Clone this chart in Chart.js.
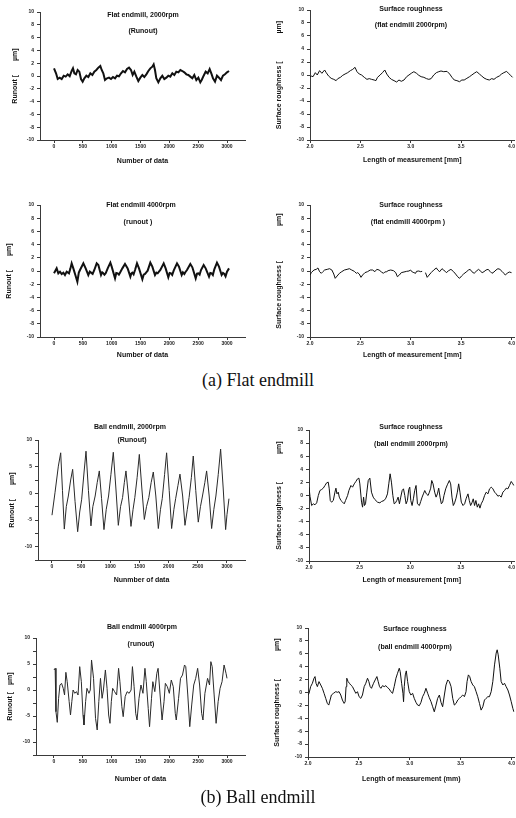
<!DOCTYPE html>
<html><head><meta charset="utf-8">
<script src="https://cdn.jsdelivr.net/npm/chart.js@4.4.0/dist/chart.umd.min.js"></script>
<style>
html,body{margin:0;padding:0;background:#fff;}
#page{position:relative;width:516px;height:818px;overflow:hidden;background:#fff;}
#page canvas{position:absolute;}
.cap{position:absolute;left:0;width:516px;text-align:center;font-family:"Liberation Serif","DejaVu Serif",serif;font-size:18px;line-height:20px;color:#111;}
</style></head><body>
<div id="page">
<canvas id="a1" width="258" height="175" style="left:0px;top:0px"></canvas>
<canvas id="a2" width="258" height="175" style="left:258px;top:0px"></canvas>
<canvas id="a3" width="258" height="175" style="left:0px;top:190px"></canvas>
<canvas id="a4" width="258" height="175" style="left:258px;top:190px"></canvas>
<canvas id="b1" width="258" height="175" style="left:0px;top:420px"></canvas>
<canvas id="b2" width="258" height="175" style="left:258px;top:420px"></canvas>
<canvas id="b3" width="258" height="180" style="left:0px;top:612px"></canvas>
<canvas id="b4" width="258" height="180" style="left:258px;top:612px"></canvas>
<div class="cap" style="top:370px">(a) Flat endmill</div>
<div class="cap" style="top:787px">(b) Ball endmill</div>
</div>
<script>
// ---- data: [number of data / length in mm, value in µm] ----
const runoutTicks = [0, 500, 1000, 1500, 2000, 2500, 3000];
const lengthTicks = [2.0, 2.5, 3.0, 3.5, 4.0];

const flat2000Runout = [[0,1.2],[35,0.42],[64,-0.47],[98,-0.26],[133,-0.47],[168,0.05],[202,-0.10],[237,0.26],[272,-0.05],[306,0.78],[329,1.2],[353,0.42],[381,0.26],[410,0.94],[439,0.68],[468,-0.47],[497,-0.89],[526,-0.36],[561,0.05],[595,-0.16],[630,0.42],[665,0.16],[699,0.68],[734,0.94],[769,1.3],[803,1.56],[827,0.94],[855,0.42],[884,-0.63],[919,-0.36],[954,-0.26],[988,-0.47],[1023,-0.16],[1058,-0.36],[1092,0.05],[1127,-0.05],[1162,0.42],[1196,0.78],[1231,0.57],[1266,1.09],[1301,1.3],[1335,0.94],[1364,0.16],[1393,0.68],[1428,-0.10],[1462,-0.78],[1497,-0.26],[1532,0.16],[1566,-0.16],[1601,0.26],[1636,0.78],[1670,1.2],[1705,1.46],[1728,1.82],[1751,0.94],[1774,-0.36],[1809,-0.99],[1844,-0.36],[1878,0.05],[1913,-0.47],[1948,-0.26],[1982,0.05],[2017,-0.10],[2052,0.42],[2086,0.16],[2121,0.68],[2156,0.57],[2191,0.94],[2225,0.78],[2260,0.57],[2295,0.26],[2329,0.16],[2364,-0.10],[2399,-0.36],[2433,0.16],[2468,-0.63],[2503,-0.26],[2537,-0.99],[2561,-0.63],[2595,0.05],[2630,0.68],[2665,0.42],[2699,1.09],[2734,0.26],[2757,-0.36],[2792,-0.89],[2826,0.05],[2861,-0.26],[2896,-0.63],[2930,0.05],[2965,0.26],[3000,0.57],[3035,0.78]];

const flat2000Rough = [[2.000,-0.36],[2.013,-0.15],[2.030,-0.26],[2.053,0.36],[2.072,0],[2.095,0.67],[2.118,0.26],[2.145,0.77],[2.161,0.36],[2.184,-0.15],[2.210,-0.51],[2.236,-0.67],[2.259,-0.87],[2.276,-0.56],[2.302,-0.36],[2.325,-0.05],[2.348,0.15],[2.374,0.36],[2.401,0.67],[2.424,0.87],[2.447,1.18],[2.466,0.51],[2.489,0.15],[2.512,0],[2.539,-0.36],[2.565,-0.67],[2.588,-0.56],[2.611,-0.67],[2.637,-0.77],[2.654,-0.87],[2.670,-0.36],[2.696,0],[2.719,0.36],[2.742,0.77],[2.762,0.15],[2.785,-0.36],[2.808,-0.67],[2.834,-0.87],[2.860,-1.08],[2.883,-0.77],[2.906,-0.97],[2.933,-0.77],[2.959,-0.26],[2.982,0],[3.005,0.26],[3.031,0.51],[3.057,0.26],[3.080,-0.05],[3.103,-0.26],[3.130,-0.36],[3.156,-0.56],[3.179,-0.67],[3.202,-0.56],[3.228,0],[3.254,0.36],[3.278,0.51],[3.300,0.62],[3.327,0.51],[3.360,0.56],[3.386,0.15],[3.409,-0.36],[3.432,-0.77],[3.458,-0.87],[3.484,-1.03],[3.507,-0.77],[3.530,-0.77],[3.557,-0.51],[3.583,-0.26],[3.606,0],[3.629,0.26],[3.655,0.51],[3.681,0.15],[3.704,-0.15],[3.727,-0.46],[3.754,-0.67],[3.780,-0.77],[3.803,-0.56],[3.826,-0.67],[3.852,-0.36],[3.879,-0.15],[3.901,0.15],[3.924,0.36],[3.951,0.56],[3.970,0.26],[3.990,-0.05],[4.010,-0.36]];

const flat4000Runout = [[0,-0.35],[46,0.40],[75,-0.35],[104,-0.10],[133,-0.45],[162,-0.25],[190,-0.61],[220,-0.10],[260,-0.35],[285,0.40],[306,1.16],[335,0.40],[370,-0.61],[405,-1.62],[430,-0.25],[451,0.15],[509,1.16],[549,0.40],[595,-0.61],[620,-0.10],[642,-0.25],[670,-0.45],[699,0.15],[740,1.16],[769,0.91],[815,-0.61],[835,-0.20],[855,-0.35],[875,-0.55],[896,-0.35],[931,0.40],[977,1.26],[1000,0.66],[1058,-1.11],[1080,-0.30],[1104,-0.35],[1125,-0.55],[1144,-0.25],[1185,0.40],[1231,1.06],[1277,0.40],[1324,-0.86],[1340,-0.40],[1358,-0.25],[1380,-0.50],[1405,0.15],[1439,1.16],[1474,0.40],[1532,-1.26],[1555,-0.55],[1578,-0.45],[1600,-0.20],[1624,0.05],[1670,1.26],[1705,0.66],[1751,-0.61],[1775,-0.25],[1798,-0.35],[1820,-0.10],[1844,0.15],[1902,1.16],[1936,0.40],[1982,-0.96],[2005,-0.30],[2029,-0.35],[2050,-0.60],[2075,0.05],[2133,1.16],[2167,0.66],[2214,-0.61],[2235,-0.20],[2260,-0.45],[2280,-0.15],[2306,0.15],[2364,1.06],[2399,0.56],[2457,-1.11],[2480,-0.40],[2503,-0.35],[2525,-0.55],[2549,0.15],[2595,0.91],[2630,0.40],[2688,-0.86],[2710,-0.30],[2734,-0.35],[2755,-0.60],[2780,0.25],[2826,1.26],[2861,0.66],[2907,-0.61],[2930,-0.30],[2954,-0.45],[2975,-0.80],[3000,-0.10],[3035,0.40]];

const flat4000Rough = [[2.000,-0.61],[2.013,-0.25],[2.039,0.15],[2.062,0.25],[2.079,0.46],[2.095,-0.10],[2.112,-0.35],[2.128,-0.10],[2.145,0.15],[2.171,0.25],[2.194,0.35],[2.217,0.15],[2.236,-0.46],[2.250,-1.11],[2.269,-0.76],[2.292,-0.35],[2.315,-0.10],[2.342,0.15],[2.368,0.25],[2.391,0.35],[2.414,0.15],[2.440,-0.05],[2.460,-0.35],[2.473,-0.25],[2.489,-0.46],[2.506,-0.96],[2.522,-0.61],[2.545,-0.25],[2.571,-0.10],[2.598,0.15],[2.621,0.15],[2.644,-0.10],[2.663,0.25],[2.686,0.15],[2.709,-0.15],[2.729,-0.35],[2.742,-0.15],[2.762,-0.10],[2.775,0.05],[2.801,0.15],[2.828,0.05],[2.851,-0.25],[2.867,-0.86],[2.887,-0.61],[2.906,-0.25],[2.933,-0.15],[2.959,-0.05],[2.982,0],[2.998,0.15],[3.015,-0.15],[3.031,-0.25],[3.048,-0.35],[3.057,-0.05],[3.080,0],[3.097,-0.10],[3.113,-0.05],[3.130,null],[3.146,-0.25],[3.163,-0.96],[3.182,-0.61],[3.202,-0.25],[3.228,0.15],[3.254,0.46],[3.268,0.15],[3.287,-0.10],[3.310,0.35],[3.327,0.15],[3.353,-0.25],[3.376,0.05],[3.399,0.25],[3.425,-0.10],[3.445,-0.46],[3.465,-0.86],[3.484,-1.11],[3.504,-0.76],[3.524,-0.46],[3.550,-0.15],[3.573,0.15],[3.589,0.25],[3.606,-0.10],[3.629,-0.35],[3.649,-0.05],[3.672,0.25],[3.688,0.05],[3.708,-0.25],[3.727,-0.10],[3.747,0.15],[3.767,0.25],[3.787,-0.05],[3.806,-0.35],[3.826,-0.15],[3.846,0.15],[3.865,0.35],[3.885,0.25],[3.905,-0.05],[3.924,-0.35],[3.938,-0.61],[3.957,-0.35],[3.977,-0.15],[4.000,-0.25]];

const ball2000Runout = [[0,-4.1],[51,0.1],[109,5.1],[149,7.6],[180,0.5],[211,-6.7],[245,-2.5],[280,-0.5],[320,2.5],[354,4.5],[395,-1.5],[440,-7.2],[475,-3.5],[509,-1.1],[550,4.0],[583,7.9],[625,0.5],[668,-6.1],[700,-2.5],[740,-0.5],[775,2.0],[811,4.2],[850,-1.0],[891,-6.8],[930,-3.0],[970,-0.5],[1010,3.5],[1051,7.7],[1095,1.0],[1137,-6.0],[1175,-2.5],[1210,-0.8],[1240,2.0],[1268,4.2],[1310,-0.5],[1354,-6.2],[1390,-3.0],[1420,-0.8],[1460,3.0],[1497,7.3],[1540,1.0],[1583,-4.9],[1620,-2.5],[1660,-0.8],[1700,2.0],[1737,4.0],[1780,-0.5],[1823,-6.6],[1860,-3.0],[1890,-1.0],[1930,3.5],[1965,7.6],[2010,0.5],[2051,-6.6],[2090,-3.0],[2120,-1.0],[2160,1.5],[2194,3.6],[2240,-0.5],[2280,-6.0],[2320,-3.0],[2350,-0.8],[2390,3.0],[2422,7.0],[2465,0.5],[2508,-5.4],[2545,-2.5],[2580,-0.5],[2620,2.0],[2651,4.2],[2695,-0.5],[2737,-6.6],[2775,-3.0],[2810,-0.5],[2850,3.5],[2891,8.3],[2935,1.0],[2977,-6.8],[3000,-4.0],[3034,-1.0]];

const ball2000Rough = [[2.000,1.27],[2.010,-0.15],[2.026,-1.53],[2.043,-1.27],[2.059,-1.42],[2.076,-1.12],[2.092,0],[2.108,0.76],[2.125,0.92],[2.141,1.12],[2.158,1.53],[2.174,1.93],[2.190,2.04],[2.200,1.02],[2.210,-0.76],[2.223,-1.02],[2.240,-0.76],[2.256,0.51],[2.266,1.12],[2.276,0.25],[2.289,0.51],[2.299,-0.25],[2.315,-0.76],[2.332,-1.02],[2.348,-1.27],[2.361,-0.76],[2.381,0],[2.394,0.76],[2.414,1.53],[2.430,1.27],[2.447,1.78],[2.463,2.14],[2.479,2.54],[2.493,2.65],[2.502,1.78],[2.519,-1.02],[2.529,-1.78],[2.539,-0.25],[2.548,-1.53],[2.558,-1.27],[2.571,0.51],[2.585,2.29],[2.601,2.65],[2.617,0.51],[2.634,-0.25],[2.650,-0.61],[2.677,-1.02],[2.700,-1.12],[2.716,-0.92],[2.742,-0.76],[2.759,-0.41],[2.775,0.25],[2.788,1.78],[2.801,3.31],[2.814,2.04],[2.828,0],[2.841,-1.27],[2.854,-1.12],[2.867,-0.76],[2.880,-0.25],[2.893,-1.27],[2.906,-0.25],[2.920,0.76],[2.933,1.02],[2.946,0],[2.959,-1.27],[2.972,-0.76],[2.985,0.92],[2.995,1.27],[3.005,-0.76],[3.018,-1.53],[3.031,-0.51],[3.044,0.76],[3.057,1.53],[3.071,-1.27],[3.090,-1.53],[3.103,-0.92],[3.117,-0.25],[3.130,0.25],[3.143,0.76],[3.159,0.25],[3.176,0],[3.189,0.51],[3.202,1.12],[3.212,2.29],[3.225,1.78],[3.241,0.51],[3.255,-0.25],[3.268,0.25],[3.281,1.12],[3.294,-0.25],[3.307,-1.27],[3.320,-1.02],[3.333,0],[3.350,1.02],[3.366,1.63],[3.386,2.29],[3.399,1.78],[3.412,-0.25],[3.425,-1.53],[3.438,-1.12],[3.452,-0.41],[3.465,0.51],[3.478,1.78],[3.491,0.51],[3.504,-1.02],[3.521,-1.53],[3.537,-1.27],[3.553,-0.41],[3.570,0.25],[3.583,-0.76],[3.596,-1.53],[3.609,-1.12],[3.622,-0.51],[3.635,-1.53],[3.648,-0.76],[3.662,-1.78],[3.675,-1.27],[3.688,-1.93],[3.701,-1.27],[3.718,-0.76],[3.734,0],[3.750,0.51],[3.767,0.25],[3.783,1.02],[3.800,1.27],[3.816,1.02],[3.833,0.51],[3.849,0.25],[3.865,-0.10],[3.882,0],[3.898,-0.25],[3.915,0.51],[3.931,0.76],[3.947,1.12],[3.964,1.02],[3.980,1.53],[3.997,2.14],[4.013,1.78],[4.023,1.53]];

const ball4000Runout = [[0,3.85],[20,4.17],[34,-4.17],[57,-6.22],[80,-1.60],[103,0.96],[131,1.28],[160,0.32],[183,-0.96],[206,3.40],[229,1.60],[263,-2.24],[286,-4.81],[309,-2.24],[331,0],[360,-0.64],[389,-0.32],[417,-0.96],[446,4.49],[474,1.60],[503,-4.81],[520,-6.73],[548,-2.24],[571,0.32],[606,-0.64],[629,0],[651,5.77],[686,2.24],[720,-5.45],[749,-7.69],[777,-2.24],[806,2.24],[834,-1.60],[857,0],[891,3.85],[920,0.32],[948,-4.81],[971,-6.41],[994,-2.24],[1017,0.32],[1051,-0.32],[1086,-0.96],[1120,4.17],[1143,1.60],[1177,-3.21],[1200,-5.13],[1234,-1.28],[1268,-0.32],[1303,-0.64],[1337,0],[1360,4.49],[1389,0.64],[1417,-4.49],[1440,-5.77],[1474,-1.60],[1508,0.96],[1543,-0.64],[1577,4.17],[1600,1.60],[1634,-3.53],[1657,-7.05],[1691,-1.60],[1714,1.60],[1748,-0.32],[1783,3.21],[1805,4.17],[1840,-0.96],[1874,-5.77],[1908,-2.24],[1931,1.28],[1966,0.64],[2000,-0.64],[2034,1.92],[2068,0.64],[2103,-4.49],[2120,-5.77],[2160,-1.60],[2194,2.24],[2228,2.88],[2263,4.81],[2285,4.49],[2320,-0.96],[2354,-7.05],[2388,-2.88],[2423,0.96],[2457,2.24],[2491,4.17],[2525,0.96],[2560,-4.49],[2583,-5.77],[2617,-0.64],[2663,2.24],[2697,0.96],[2720,5.45],[2743,4.49],[2777,-0.96],[2811,-6.41],[2846,-2.24],[2880,0.32],[2914,1.60],[2949,4.81],[2983,3.21],[3000,2.24]];

const ball4000Rough = [[2.000,-0.39],[2.010,-0.13],[2.026,0.91],[2.043,1.43],[2.059,2.21],[2.069,2.47],[2.079,1.43],[2.092,0.91],[2.108,1.69],[2.125,1.17],[2.141,0.65],[2.158,-0.13],[2.174,-0.91],[2.190,-1.69],[2.204,-1.95],[2.217,-1.17],[2.230,-0.39],[2.250,-0.13],[2.273,0.13],[2.289,0.03],[2.305,0.13],[2.322,-0.39],[2.338,-1.17],[2.355,-1.69],[2.365,-1.43],[2.374,0.91],[2.381,2.21],[2.394,1.69],[2.407,1.43],[2.420,1.17],[2.437,0.91],[2.453,0.39],[2.470,-0.13],[2.486,0.13],[2.502,-0.65],[2.519,-0.91],[2.535,-0.39],[2.552,0.91],[2.568,1.43],[2.585,2.21],[2.598,1.69],[2.611,0.91],[2.624,0.65],[2.644,1.43],[2.660,1.95],[2.677,2.47],[2.690,1.69],[2.703,0.91],[2.716,0.65],[2.732,1.06],[2.749,0.91],[2.765,1.06],[2.782,0.75],[2.798,0.55],[2.814,0.13],[2.831,-0.13],[2.847,0.91],[2.864,2.21],[2.880,2.99],[2.897,3.76],[2.906,3.24],[2.920,1.43],[2.933,-0.13],[2.939,-1.43],[2.946,0.91],[2.956,2.73],[2.966,3.35],[2.979,1.69],[2.995,0.13],[3.011,-0.39],[3.028,-0.13],[3.044,-0.91],[3.061,-1.53],[3.077,-1.95],[3.094,-2.05],[3.110,-1.53],[3.126,-0.65],[3.143,-0.13],[3.159,0.65],[3.176,-0.13],[3.192,-0.81],[3.209,-1.43],[3.225,-2.21],[3.241,-2.99],[3.258,-1.95],[3.274,-0.91],[3.291,-0.39],[3.307,-1.53],[3.323,-2.21],[3.340,-0.39],[3.356,1.17],[3.373,1.95],[3.389,1.69],[3.406,0.91],[3.422,-0.91],[3.438,-1.95],[3.455,-1.69],[3.471,-1.17],[3.488,-0.91],[3.504,-0.65],[3.521,-0.39],[3.537,-0.65],[3.553,0.13],[3.563,1.69],[3.576,2.73],[3.589,2.47],[3.603,1.69],[3.619,1.17],[3.635,0.91],[3.652,0.13],[3.668,-0.65],[3.685,-1.69],[3.701,-2.73],[3.718,-2.21],[3.734,-1.17],[3.750,-0.91],[3.767,-0.65],[3.783,-0.65],[3.800,0.13],[3.816,1.69],[3.833,4.28],[3.849,6.10],[3.859,6.62],[3.869,5.84],[3.885,3.76],[3.898,1.69],[3.915,1.17],[3.931,1.43],[3.947,0.91],[3.964,0.39],[3.980,-0.39],[3.997,-1.43],[4.013,-2.47],[4.023,-2.99]];

// ---- rendering ----
const FAM = "'Liberation Sans', Arial, sans-serif";
const AX = '#3a3a3a';

function titlesPlugin(lines){
  return { id:'panelTitles', afterDraw(chart){
    const ctx = chart.ctx; ctx.save();
    ctx.fillStyle = '#111'; ctx.font = "bold 7px " + FAM;
    ctx.textAlign = 'center'; ctx.textBaseline = 'middle';
    lines.forEach(l => ctx.fillText(l[0], l[1], l[2]));
    ctx.restore();
  }};
}

function panel(id, p){
  const tickFont = {size:5, family:FAM, weight:'bold'};
  const titleFont = {size:7, family:FAM, weight:'bold'};
  const xTicks = p.xTicks;
  new Chart(document.getElementById(id), {
    type:'line',
    data:{ datasets:[{ data:p.data.map(d => ({x:d[0], y:d[1]})), borderColor:p.color||'#111', borderWidth:p.lw||1, pointRadius:0, tension:0, fill:false, spanGaps:false }] },
    options:{
      responsive:false, animation:false, events:[],
      layout:{ padding:{ left:0, top:p.padTop, right:p.padRight, bottom:0 } },
      plugins:{ legend:{display:false}, tooltip:{enabled:false}, title:{display:false} },
      scales:{
        x:{ type:'linear', min:p.xMin, max:p.xMax,
          afterFit:s => { s.height = p.xAxisH; },
          afterBuildTicks:s => { s.ticks = xTicks.map(v => ({value:v})); },
          border:{display:true, color:AX, width:1, dash:[3,2]},
          grid:{display:true, drawOnChartArea:false, drawTicks:true, tickLength:3, color:AX},
          ticks:{ autoSkip:false, maxRotation:0, padding:1, font:tickFont, color:'#222',
            callback:v => p.xFmt ? v.toFixed(1) : String(v) },
          title:{ display:true, text:p.xTitle, font:titleFont, color:'#111', padding:{top:0, bottom:p.xTitlePad} } },
        y:{ type:'linear', min:p.yMin, max:p.yMax,
          afterFit:s => { s.width = p.yAxisW; },
          border:{display:true, color:AX, width:1, dash:[2,2]},
          grid:{display:true, drawOnChartArea:false, drawTicks:true, tickLength:3, color:AX},
          ticks:{ stepSize:p.yStep, autoSkip:false, padding:3, font:tickFont, color:'#222',
            callback:v => (p.yLabelEvery && Math.abs(v % p.yLabelEvery) > 1e-9) ? '' : String(v) },
          title:{ display:true, text:p.yTitle, font:titleFont, color:'#111', padding:{top:p.yTitlePad, bottom:0} } }
      }
    },
    plugins:[titlesPlugin(p.titles)]
  });
}

const RUN_T = 'Runout [\u2003\u2003\u00b5m]';
const RGH_T = 'Surface roughness [\u2003\u2003\u2003\u2003\u00b5m]';

panel('a1', { data:flat2000Runout, lw:2, xMin:-243, xMax:3312, xTicks:runoutTicks, yMin:-10, yMax:10, yStep:2,
  padTop:12, padRight:13, xAxisH:35, yAxisW:40, xTitlePad:9.8, yTitlePad:10.8,
  xTitle:'Number of data', yTitle:RUN_T,
  titles:[['Flat endmill, 2000rpm',143,15],['(Runout)',143,31]] });

panel('a2', { data:flat2000Rough, lw:1, xMin:2, xMax:4.03, xTicks:lengthTicks, xFmt:true, yMin:-10, yMax:10, yStep:2,
  padTop:10, padRight:0, xAxisH:35, yAxisW:52, xTitlePad:10.8, yTitlePad:16.8,
  xTitle:'Length of measurement [mm]', yTitle:RGH_T,
  titles:[['Surface roughness',153,9],['(flat endmill 2000rpm)',153,25]] });

panel('a3', { data:flat4000Runout, lw:2, xMin:-243, xMax:3312, xTicks:runoutTicks, yMin:-10, yMax:10, yStep:2,
  padTop:15, padRight:13, xAxisH:28, yAxisW:40, xTitlePad:5.8, yTitlePad:4.8,
  xTitle:'Number of data', yTitle:RUN_T,
  titles:[['Flat endmill 4000rpm',141,15],['(runout )',138,32]] });

panel('a4', { data:flat4000Rough, lw:1, xMin:2, xMax:4.03, xTicks:lengthTicks, xFmt:true, yMin:-10, yMax:10, yStep:2,
  padTop:15, padRight:0, xAxisH:28, yAxisW:52, xTitlePad:5.8, yTitlePad:16.8,
  xTitle:'Length of measurement [mm]', yTitle:'Surface roughness [\u2003\u2003\u2003\u2003\u2003\u00b5m]',
  titles:[['Surface roughness',153,15],['(flat endmill 4000rpm )',150,32]] });

panel('b1', { data:ball2000Runout, lw:1, color:'#2a2a2a', xMin:-240, xMax:3309, xTicks:runoutTicks, yMin:-12.5, yMax:10, yStep:2.5, yLabelEvery:5,
  padTop:20, padRight:13, xAxisH:35, yAxisW:38, xTitlePad:10.8, yTitlePad:7.8,
  xTitle:'Nunmber of data', yTitle:RUN_T,
  titles:[['Ball endmill, 2000rpm',130,7],['(Runout)',132,20]] });

panel('b2', { data:ball2000Rough, lw:1, xMin:2, xMax:4.03, xTicks:lengthTicks, xFmt:true, yMin:-10, yMax:10, yStep:2,
  padTop:10, padRight:0, xAxisH:34, yAxisW:51, xTitlePad:10.8, yTitlePad:16.8,
  xTitle:'Length of measurement [mm]', yTitle:RGH_T,
  titles:[['Surface roughness',153,7],['(ball endmill 2000rpm)',153,24]] });

panel('b3', { data:ball4000Runout, lw:1, color:'#2a2a2a', xMin:-312, xMax:3312, xTicks:runoutTicks, yMin:-12.5, yMax:10, yStep:2.5, yLabelEvery:5,
  padTop:26, padRight:13, xAxisH:37, yAxisW:36, xTitlePad:8.8, yTitlePad:5.8,
  xTitle:'Number of data', yTitle:'Runout [\u2003\u00b5m]',
  titles:[['Ball endmill 4000rpm',142,15],['(runout)',141,32]] });

panel('b4', { data:ball4000Rough, lw:1, xMin:2, xMax:4.03, xTicks:lengthTicks, xFmt:true, yMin:-10, yMax:10, yStep:2,
  padTop:16, padRight:0, xAxisH:35, yAxisW:50, xTitlePad:8.8, yTitlePad:14.8,
  xTitle:'Length of measurement (mm)', yTitle:RGH_T,
  titles:[['Surface roughness',157,17],['(ball endmill 4000rpm)',157,35]] });
</script>
</body></html>
